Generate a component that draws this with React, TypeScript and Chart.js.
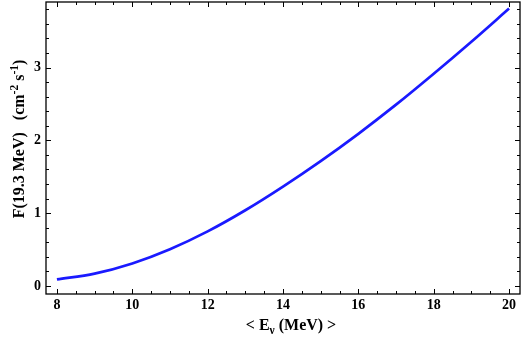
import React, { useEffect, useRef } from "react";
import { Chart, registerables } from "chart.js";

Chart.register(...registerables);

const energies = [8, 9, 10, 11, 12, 13, 14, 15, 16, 17, 18, 19, 20];
const flux = [0.09, 0.17, 0.31, 0.505, 0.75, 1.04, 1.365, 1.715, 2.09, 2.49, 2.915, 3.355, 3.81];
const xMajorTicks = [8, 10, 12, 14, 16, 18, 20];
const yMajorTicks = [0, 1, 2, 3];

const FONT = "'Liberation Serif', 'Times New Roman', serif";

const framePlugin = {
  id: "frame",
  afterDraw(chart: any) {
    const { ctx, chartArea, scales } = chart;
    const { left, right, top, bottom } = chartArea;
    const xs = scales.x;
    const ys = scales.y;
    ctx.save();
    ctx.strokeStyle = "#000";
    ctx.lineWidth = 1.3;
    ctx.strokeRect(left, top, right - left, bottom - top);
    ctx.lineWidth = 1;
    for (let i = 0; i <= 24; i++) {
      const v = 8 + i * 0.5;
      const major = i % 4 === 0;
      const len = major ? 5 : 3;
      const px = Math.round(xs.getPixelForValue(v)) + 0.5;
      ctx.beginPath();
      ctx.moveTo(px, bottom);
      ctx.lineTo(px, bottom - len);
      ctx.moveTo(px, top);
      ctx.lineTo(px, top + len);
      ctx.stroke();
    }
    for (let i = 0; i <= 19; i++) {
      const v = i * 0.2;
      const major = i % 5 === 0;
      const len = major ? 5 : 3;
      const py = Math.round(ys.getPixelForValue(v)) + 0.5;
      ctx.beginPath();
      ctx.moveTo(left, py);
      ctx.lineTo(left + len, py);
      ctx.moveTo(right, py);
      ctx.lineTo(right - len, py);
      ctx.stroke();
    }
    // x title
    ctx.fillStyle = "#000";
    ctx.textBaseline = "alphabetic";
    ctx.textAlign = "left";
    const big = "bold 16px " + FONT;
    const small = "bold 11.5px " + FONT;
    const p1 = "< E";
    const p2 = "\u03BD";
    const p3 = " (MeV) >";
    ctx.font = big;
    const w1 = ctx.measureText(p1).width;
    const w3 = ctx.measureText(p3).width;
    ctx.font = small;
    const w2 = ctx.measureText(p2).width;
    const total = w1 + w2 + w3;
    const x0 = 291 - total / 2;
    const by = 330;
    ctx.font = big;
    ctx.fillText(p1, x0, by);
    ctx.font = small;
    ctx.fillText(p2, x0 + w1, by + 4);
    ctx.font = big;
    ctx.fillText(p3, x0 + w1 + w2, by);
    // y title
    ctx.save();
    ctx.translate(24, 139);
    ctx.rotate(-Math.PI / 2);
    const parts: [string, string, number][] = [
      ["F(19.3 MeV)   (cm", big, 0],
      ["-2", small, -6],
      [" s", big, 0],
      ["-1", small, -6],
      [")", big, 0],
    ];
    let tw = 0;
    for (const [t, f] of parts) {
      ctx.font = f;
      tw += ctx.measureText(t).width;
    }
    let cx = -tw / 2;
    for (const [t, f, dy] of parts) {
      ctx.font = f;
      ctx.fillText(t, cx, dy);
      cx += ctx.measureText(t).width;
    }
    ctx.restore();
    ctx.restore();
  },
};

export default function App() {
  const ref = useRef<HTMLCanvasElement | null>(null);
  useEffect(() => {
    if (!ref.current) return;
    const zeroPad = (s: any) => {
      s.paddingTop = 0;
      s.paddingBottom = 0;
      s.paddingLeft = 0;
      s.paddingRight = 0;
    };
    const chart = new Chart(ref.current, {
      type: "line",
      data: {
        datasets: [
          {
            data: energies.map((e, i) => ({ x: e, y: flux[i] })),
            borderColor: "#1a1aff",
            borderWidth: 2.7,
            pointRadius: 0,
            cubicInterpolationMode: "monotone",
            fill: false,
          },
        ],
      },
      options: {
        animation: false,
        responsive: false,
        maintainAspectRatio: false,
        layout: { padding: { top: 2, right: 2, left: 0, bottom: 0 } },
        plugins: { legend: { display: false }, tooltip: { enabled: false } },
        scales: {
          x: {
            type: "linear",
            min: 7.71,
            max: 20.29,
            grid: { display: false, drawTicks: false },
            border: { display: false },
            afterFit: (s: any) => {
              s.height = 50;
              zeroPad(s);
            },
            afterBuildTicks: (s: any) => {
              s.ticks = xMajorTicks.map((v) => ({ value: v }));
            },
            ticks: {
              padding: 3,
              maxRotation: 0,
              autoSkip: false,
              color: "#000",
              font: { family: FONT, size: 14, weight: "bold" },
            },
          },
          y: {
            type: "linear",
            min: -0.11,
            max: 3.9,
            grid: { display: false, drawTicks: false },
            border: { display: false },
            afterFit: (s: any) => {
              s.width = 46;
              zeroPad(s);
            },
            afterBuildTicks: (s: any) => {
              s.ticks = yMajorTicks.map((v) => ({ value: v }));
            },
            ticks: {
              padding: 5,
              autoSkip: false,
              color: "#000",
              font: { family: FONT, size: 14, weight: "bold" },
            },
          },
        },
      },
      plugins: [framePlugin],
    } as any);
    return () => chart.destroy();
  }, []);
  return (
    <div style={{ position: "fixed", left: 0, top: 0, width: 522, height: 344, background: "#fff" }}>
      <canvas ref={ref} width={522} height={344} style={{ width: 522, height: 344 }} />
    </div>
  );
}
